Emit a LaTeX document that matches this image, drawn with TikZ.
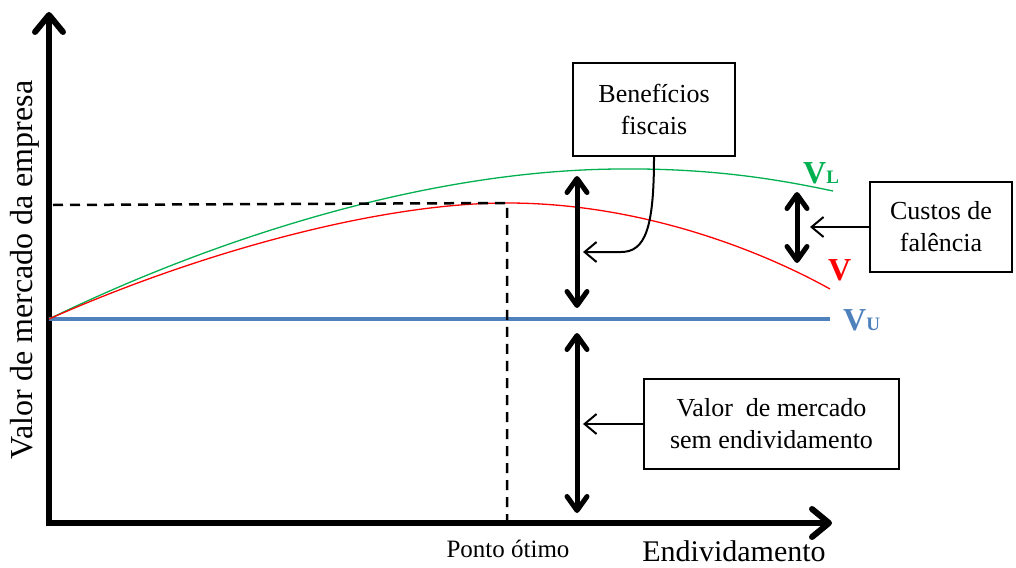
\documentclass[tikz,border=0pt]{standalone}
\usepackage{fontspec}
\setmainfont{Liberation Serif}
\usetikzlibrary{arrows.meta, positioning}
\definecolor{vlgreen}{RGB}{0,176,80}
\definecolor{vred}{RGB}{255,0,0}
\definecolor{vublue}{RGB}{79,129,189}

\begin{document}
\begin{tikzpicture}[x=1pt, y=-1pt, font=\fontsize{26}{32}\selectfont,
    axis/.style={line width=6pt, line join=miter,
                 {Straight Barb[length=17pt,width=28pt,round]}-{Straight Barb[length=17pt,width=28pt,round]}},
    span/.style={line width=5pt,
                 {Straight Barb[length=14pt,width=20pt,round]}-{Straight Barb[length=14pt,width=20pt,round]}},
    pointer/.style={line width=2pt, -{Straight Barb[length=12pt,width=20pt]}},
    guide/.style={line width=2.5pt, dash pattern=on 10pt off 7pt},
    infobox/.style={rectangle, draw, line width=2pt, align=center,
                    minimum width=#1, minimum height=90pt},
    vlabel/.style={font=\fontsize{32}{32}\selectfont\bfseries, inner sep=0pt, anchor=base west}]

\useasboundingbox (0,0) rectangle (1016,567);

% ════════════════════════════════════════
%  Axes
% ════════════════════════════════════════

\coordinate (O) at (49,523);
\coordinate (ytop) at (49,12);
\coordinate (xend) at (832,523);
\draw[axis] (ytop) -- (O) -- (xend);

\node[rotate=90, font=\fontsize{32}{36}\selectfont] (ylab) at (25,270) {Valor de mercado da empresa};
\node[font=\fontsize{30}{34}\selectfont] (xlab) at (734,551) {Endividamento};

% ════════════════════════════════════════
%  Curves: V_U, V_L and V
% ════════════════════════════════════════

\coordinate (vu0) at (49,319);
\coordinate (vu1) at (830,319);
\draw[vublue, line width=4pt] (vu0) -- (vu1);

\coordinate (vlpeak) at (620,169);
\coordinate (vlend) at (833,191);
\draw[vlgreen, line width=1.3pt]
    (vu0) .. controls (205,243) and (420,170) .. (vlpeak)
          .. controls (720,168) and (790,182) .. (vlend);

\coordinate (opt) at (507,203);
\coordinate (vend) at (830,289);
\draw[vred, line width=1.3pt]
    (vu0) .. controls (200,252) and (380,203) .. (opt)
          .. controls (640,203) and (760,250) .. (vend);

\node[vlabel, text=vlgreen] (lblL) at (803,183) {V\fontsize{19}{19}\selectfont L};
\node[vlabel, text=vred] (lblV) at (828,280) {V};
\node[vlabel, text=vublue] (lblU) at (843,330) {V\fontsize{19}{19}\selectfont U};

% Optimum point
\coordinate (yopt) at (53,205);
\coordinate (xopt) at (opt |- O);
\draw[guide] (yopt) -- (opt) -- (xopt);
\node[font=\fontsize{25}{30}\selectfont] (ponto) at (508,549) {Ponto ótimo};

% ════════════════════════════════════════
%  Spans
% ════════════════════════════════════════

\coordinate (bftop) at (577,176);
\coordinate (bfbot) at (577,308);
\coordinate (vutop) at (577,333);
\coordinate (vubot) at (577,513);
\coordinate (cftop) at (797,192);
\coordinate (cfbot) at (797,263);
\draw[span] (bftop) -- (bfbot);
\draw[span] (vutop) -- (vubot);
\draw[span] (cftop) -- (cfbot);

% ════════════════════════════════════════
%  Boxes
% ════════════════════════════════════════

\node[infobox=162pt, minimum height=93pt] (benef) at (654,109.5) {Benefícios\\fiscais};
\node[infobox=142pt] (custos) at (941,227) {Custos de\\falência};
\node[infobox=255pt] (semend) at (771.5,424) {Valor\ \ de mercado\\sem endividamento};

\coordinate (bfbend) at (621,252);
\coordinate (bfpt) at (583,252);
\coordinate (cfpt) at (810,227);
\coordinate (vupt) at (583,424);

\draw[pointer] (benef.south) .. controls +(0,72) and +(24,0) .. (bfbend) -- (bfpt);
\draw[pointer] (custos.west) -- (cfpt);
\draw[pointer] (semend.west) -- (vupt);

\end{tikzpicture}
\end{document}
